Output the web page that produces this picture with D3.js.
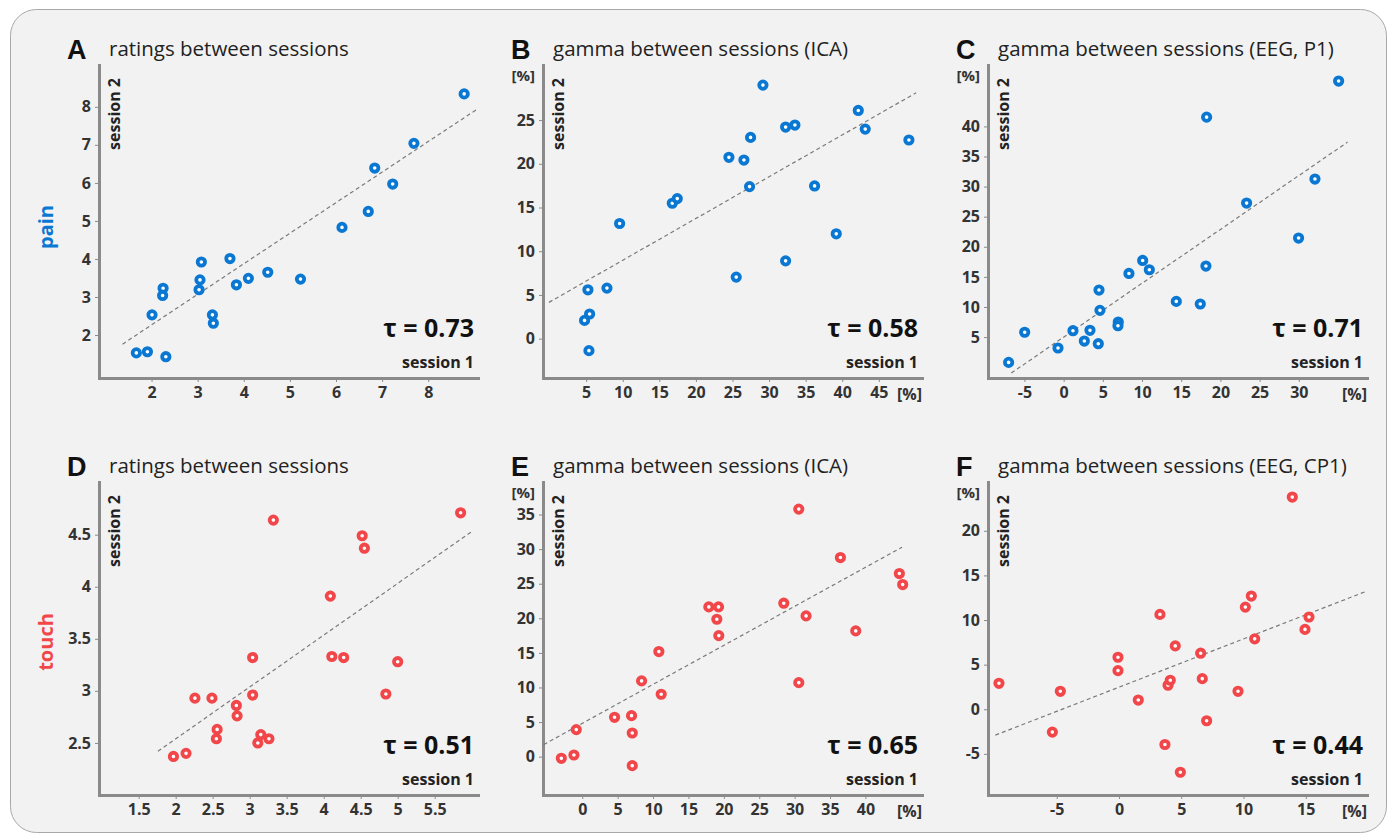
<!DOCTYPE html>
<html>
<head>
<meta charset="utf-8">
<script src="https://cdn.jsdelivr.net/npm/d3@7"></script>
<style>
  body { margin: 0; background: #fff; }
  text { font-family: "Open Sans", "Noto Sans", sans-serif; }
</style>
</head>
<body>
<script>
// session 1 / session 2 values, one pair of arrays per panel
var painRatingS1 = [1.67, 1.91, 2.31, 2.01, 2.25, 2.24, 3.05, 3.03, 3.08, 3.32, 3.34, 3.70, 3.84, 4.10, 4.52, 5.23, 6.13, 6.70, 6.84, 7.23, 7.69, 8.78];
var painRatingS2 = [1.53, 1.56, 1.43, 2.53, 3.23, 3.04, 3.45, 3.19, 3.92, 2.53, 2.31, 4.01, 3.32, 3.49, 3.65, 3.47, 4.83, 5.25, 6.39, 5.97, 7.04, 8.34];

var painIcaS1 = [4.78, 5.47, 5.24, 5.38, 7.84, 9.57, 16.77, 17.45, 24.51, 26.56, 27.47, 27.33, 25.51, 29.16, 32.26, 33.53, 32.26, 36.22, 39.18, 42.19, 43.14, 49.11];
var painIcaS2 = [2.09, 2.82, 5.59, -1.37, 5.78, 13.17, 15.49, 16.02, 20.74, 20.43, 23.02, 17.39, 7.04, 29.0, 24.20, 24.43, 8.90, 17.47, 11.99, 26.10, 23.97, 22.72];

var painEegS1 = [-7.02, -4.97, -0.72, 1.19, 2.64, 3.36, 4.42, 4.51, 4.63, 6.97, 6.93, 8.33, 10.08, 10.93, 14.37, 17.43, 18.15, 18.24, 23.34, 29.97, 32.06, 35.08];
var painEegS2 = [0.79, 5.8, 3.18, 6.06, 4.34, 6.12, 3.90, 12.81, 9.44, 7.5, 6.89, 15.57, 17.73, 16.18, 10.93, 10.49, 16.80, 41.54, 27.26, 21.45, 31.25, 47.53];

var touchRatingS1 = [1.97, 2.14, 2.26, 2.49, 2.56, 2.55, 2.82, 2.83, 3.04, 3.04, 3.15, 3.11, 3.26, 3.32, 4.09, 4.11, 4.27, 4.52, 4.55, 4.84, 5.00, 5.85];
var touchRatingS2 = [2.37, 2.40, 2.93, 2.93, 2.63, 2.54, 2.86, 2.76, 3.32, 2.96, 2.58, 2.50, 2.54, 4.64, 3.91, 3.33, 3.32, 4.49, 4.37, 2.97, 3.28, 4.71];

var touchIcaS1 = [-2.96, -1.18, -0.85, 4.56, 6.96, 7.06, 7.06, 8.38, 11.15, 10.82, 17.88, 19.25, 19.01, 19.29, 28.47, 30.59, 30.59, 31.62, 36.47, 38.64, 44.8, 45.27];
var touchIcaS2 = [-0.24, 0.24, 3.91, 5.69, 5.93, 3.42, -1.30, 10.95, 9.02, 15.19, 21.65, 21.65, 19.86, 17.50, 22.18, 35.78, 10.70, 20.35, 28.78, 18.18, 26.47, 24.88];

var touchEegS1 = [-9.64, -5.35, -4.71, -0.08, -0.08, 1.55, 3.29, 3.69, 3.94, 4.12, 4.52, 4.93, 6.56, 6.69, 7.04, 9.56, 10.15, 10.63, 10.9, 13.92, 14.94, 15.26];
var touchEegS2 = [2.91, -2.56, 2.01, 5.83, 4.33, 1.03, 10.63, -3.95, 2.69, 3.25, 7.10, -7.06, 6.28, 3.43, -1.29, 2.01, 11.45, 12.69, 7.89, 23.78, 8.95, 10.34];

// dashed fit lines, [x, y] end points
var fitA = [[1.37, 1.76], [9.05, 7.93]];
var fitB = [[-0.09, 4.15], [50.1, 28.12]];
var fitC = [[-6.68, -0.98], [36.22, 37.39]];
var fitD = [[1.76, 2.42], [6.0, 4.53]];
var fitE = [[-5.46, 1.74], [45.18, 30.28]];
var fitF = [[-9.93, -2.9], [19.92, 13.25]];

// tick values
var ticksRating = [2, 3, 4, 5, 6, 7, 8];
var ticksBx = [5, 10, 15, 20, 25, 30, 35, 40, 45];
var ticksBy = [0, 5, 10, 15, 20, 25];
var ticksCx = [-5, 0, 5, 10, 15, 20, 25, 30];
var ticksCy = [5, 10, 15, 20, 25, 30, 35, 40];
var ticksDx = [1.5, 2, 2.5, 3, 3.5, 4, 4.5, 5, 5.5];
var ticksDy = [2.5, 3, 3.5, 4, 4.5];
var ticksEx = [0, 5, 10, 15, 20, 25, 30, 35, 40];
var ticksEy = [0, 5, 10, 15, 20, 25, 30, 35];
var ticksFx = [-5, 0, 5, 10, 15];
var ticksFy = [-5, 0, 5, 10, 15, 20];

var taus = ['0.73', '0.58', '0.71', '0.51', '0.65', '0.44'];
var letters = ['A', 'B', 'C', 'D', 'E', 'F'];
var titles = ['ratings between sessions', 'gamma between sessions (ICA)', 'gamma between sessions (EEG, P1)',
              'ratings between sessions', 'gamma between sessions (ICA)', 'gamma between sessions (EEG, CP1)'];
var rowNames = ['pain', 'touch'];

var blue = '#0a78d2';
var red = '#f2474a';
var rowColors = [blue, red];

var panels = [
  {xs: painRatingS1, ys: painRatingS2, xDom: [0.86, 9.08], yDom: [0.87, 9.1], xt: ticksRating, yt: ticksRating, fit: fitA, unit: false},
  {xs: painIcaS1, ys: painIcaS2, xDom: [-0.9, 50.9], yDom: [-4.5, 31.3], xt: ticksBx, yt: ticksBy, fit: fitB, unit: true},
  {xs: painEegS1, ys: painEegS2, xDom: [-9.65, 38.7], yDom: [-1.8, 50.2], xt: ticksCx, yt: ticksCy, fit: fitC, unit: true},
  {xs: touchRatingS1, ys: touchRatingS2, xDom: [0.964, 6.085], yDom: [2.0, 5.006], xt: ticksDx, yt: ticksDy, fit: fitD, unit: false},
  {xs: touchIcaS1, ys: touchIcaS2, xDom: [-5.55, 48.0], yDom: [-5.54, 39.7], xt: ticksEx, yt: ticksEy, fit: fitE, unit: true},
  {xs: touchEegS1, ys: touchEegS2, xDom: [-10.52, 19.92], yDom: [-9.61, 25.47], xt: ticksFx, yt: ticksFy, fit: fitF, unit: true}
];

var colLeft = [99, 543, 988];
var rowTop = [65, 482];
var width = 379;
var height = 313;

var svg = d3.select('body')
.append('svg')
.attr('width', 1393)
.attr('height', 836);

svg.append('rect')
.attr('x', 10.5)
.attr('y', 9.5)
.attr('width', 1376)
.attr('height', 823)
.attr('rx', 26)
.attr('fill', '#f2f2f2')
.attr('stroke', '#a8a8a8')
.attr('stroke-width', 1);

// row labels
rowNames.forEach(function(name, r) {
  svg.append('text')
  .attr('transform', 'translate(53,' + (r === 0 ? 227 : 642) + ') rotate(-90)')
  .style('text-anchor', 'middle')
  .style('font-weight', 'bold')
  .style('font-size', '20px')
  .attr('fill', rowColors[r])
  .text(name);
});

panels.forEach(function(p, i) {
  var row = Math.floor(i / 3);
  var col = i % 3;
  var color = rowColors[row];

  var x = d3.scaleLinear().domain(p.xDom).range([0, width]);
  var y = d3.scaleLinear().domain(p.yDom).range([height, 0]);

  var main = svg.append('g')
  .attr('transform', 'translate(' + colLeft[col] + ',' + rowTop[row] + ')');

  // panel letter and title
  main.append('text')
  .attr('x', -32)
  .attr('y', -6)
  .style('font-family', '"Liberation Sans", Arial, sans-serif')
  .style('font-weight', 'bold')
  .style('font-size', '27px')
  .attr('fill', '#111')
  .text(letters[i]);

  main.append('text')
  .attr('x', 10)
  .attr('y', -9)
  .style('font-size', '20.5px')
  .attr('fill', '#222')
  .text(titles[i]);

  var xaxis = d3.axisBottom(x)
  .tickValues(p.xt)
  .tickSize(4)
  .tickSizeOuter(0)
  .tickPadding(5)
  .tickFormat(function(d) { return String(d); });

  var yaxis = d3.axisLeft(y)
  .tickValues(p.yt)
  .tickSize(4)
  .tickSizeOuter(0)
  .tickPadding(4)
  .tickFormat(function(d) { return String(d); });

  var gx = main.append('g')
  .attr('transform', 'translate(0,' + height + ')')
  .call(xaxis);

  var gy = main.append('g')
  .call(yaxis);

  [gx, gy].forEach(function(g) {
    g.select('.domain')
    .attr('stroke', '#8a8a8a')
    .attr('stroke-width', 3)
    .attr('stroke-linecap', 'square');
    g.selectAll('.tick line')
    .attr('stroke', '#8a8a8a')
    .attr('stroke-width', 1);
    g.selectAll('.tick text')
    .attr('fill', '#333')
    .style('font-family', '"Open Sans", sans-serif')
    .style('font-weight', 'bold')
    .style('font-size', '16px');
  });

  // axis names
  main.append('text')
  .attr('transform', 'translate(21,13) rotate(-90)')
  .style('text-anchor', 'end')
  .style('font-weight', 'bold')
  .style('font-size', '16px')
  .attr('fill', '#222')
  .text('session 2');

  main.append('text')
  .attr('x', width - 4)
  .attr('y', height - 10)
  .style('text-anchor', 'end')
  .style('font-weight', 'bold')
  .style('font-size', '16px')
  .attr('fill', '#222')
  .text('session 1');

  main.append('text')
  .attr('x', width - 4)
  .attr('y', height - 41)
  .style('text-anchor', 'end')
  .style('font-weight', 'bold')
  .style('font-size', '25px')
  .attr('fill', '#111')
  .text('\u03c4 = ' + taus[i]);

  if (p.unit) {
    main.append('text')
    .attr('x', -8)
    .attr('y', 16)
    .style('text-anchor', 'end')
    .style('font-weight', 'bold')
    .style('font-size', '15px')
    .attr('fill', '#333')
    .text('[%]');

    main.append('text')
    .attr('x', width)
    .attr('y', height + 22)
    .style('text-anchor', 'end')
    .style('font-weight', 'bold')
    .style('font-size', '16px')
    .attr('fill', '#333')
    .text('[%]');
  }

  // fit line
  main.append('path')
  .datum(p.fit)
  .attr('d', d3.line()
    .x(function(d) { return x(d[0]); })
    .y(function(d) { return y(d[1]); }))
  .attr('fill', 'none')
  .attr('stroke', '#7a7a7a')
  .attr('stroke-width', 1.2)
  .attr('stroke-dasharray', '4,3');

  // points
  var pts = p.xs.map(function(v, k) { return [v, p.ys[k]]; });
  main.append('g')
  .selectAll('circle')
  .data(pts)
  .enter().append('circle')
  .attr('cx', function(d) { return x(d[0]); })
  .attr('cy', function(d) { return y(d[1]); })
  .attr('r', 3.7)
  .attr('fill', '#fff')
  .attr('stroke', color)
  .attr('stroke-width', 3.8);
});
</script>
</body>
</html>
